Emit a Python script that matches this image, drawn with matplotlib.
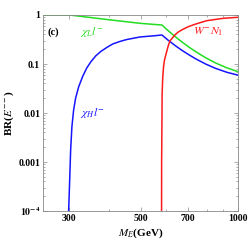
import numpy as np
import matplotlib
matplotlib.use("Agg")
import matplotlib.pyplot as plt
from matplotlib.ticker import FixedLocator, NullFormatter, LogLocator

plt.rcParams["font.family"] = "Liberation Serif"
plt.rcParams["mathtext.fontset"] = "stix"

# data (M_E in GeV, branching ratios)
m_green = [250, 302, 400, 498, 554, 582.1, 607.5, 638.5, 671.2, 705.7, 741.8, 796.4, 855.3, 925, 1000]
br_green = [1.0, 1.0, 0.80, 0.677, 0.64, 0.625, 0.484, 0.366, 0.282, 0.221, 0.177, 0.133, 0.104,
            0.0833, 0.0697]

m_blue = [299.8, 300, 302, 304.3, 307, 310.8, 315.3, 322, 331.9, 341.2, 351, 363.6, 376.9, 393.3,
          410.3, 431.5, 453.6, 498, 554, 582.1, 607.5, 638.5, 671.2, 705.7, 741.8, 796.4, 855.3,
          925, 1000]
br_blue = [5e-5, 1e-4, 3.7e-4, 1.76e-3, 5.2e-3, 0.0115, 0.0202, 0.034, 0.0569, 0.0828, 0.110, 0.146,
           0.180, 0.217, 0.256, 0.288, 0.316, 0.356, 0.378, 0.391, 0.309, 0.240, 0.190, 0.154,
           0.1265, 0.0991, 0.0808, 0.0676, 0.0593]

m_red = [580.7, 580.8, 581.1, 582.4, 583.0, 585.5, 588.9, 593.1, 601.9, 608.8, 616.2, 627.3, 638.5,
         652.3, 669.7, 701.9, 736.4, 800, 901, 1000]
br_red = [5e-5, 1e-4, 1.1e-3, 7.2e-3, 0.0233, 0.0518, 0.0868, 0.121, 0.176, 0.233, 0.295, 0.340,
          0.391, 0.444, 0.494, 0.577, 0.646, 0.765, 0.856, 0.898]

x_major = [300, 500, 700, 1000]
x_minor = [400, 600, 800, 900]
y_major = [1e-4, 1e-3, 1e-2, 1e-1, 1]
y_labels = [r"$\mathbf{10^{-4}}$", "0.001", "0.01", "0.1", "1"]

fig = plt.figure(figsize=(2.49, 2.45), dpi=100)
ax = fig.add_axes([43 / 249, 1 - 211 / 245, 195 / 249, 196 / 245])

ax.plot(m_green, br_green, color="#22dd22", lw=1.1)
ax.plot(m_blue, br_blue, color="#1515ff", lw=1.1)
ax.plot(m_red, br_red, color="#ff1a1a", lw=1.1)

ax.set_xscale("log")
ax.set_yscale("log")
ax.set_xlim(250, 1000)
ax.set_ylim(1e-4, 1)

ax.xaxis.set_major_locator(FixedLocator(x_major))
ax.xaxis.set_minor_locator(FixedLocator(x_minor))
ax.set_xticklabels([str(v) for v in x_major])
ax.xaxis.set_minor_formatter(NullFormatter())
ax.yaxis.set_major_locator(FixedLocator(y_major))
ax.yaxis.set_minor_locator(LogLocator(base=10, subs=np.arange(2, 10)))
ax.yaxis.set_minor_formatter(NullFormatter())
ax.set_yticklabels(y_labels)

for lab in ax.get_xticklabels() + ax.get_yticklabels():
    lab.set_fontweight("bold")
    lab.set_fontsize(7)

ax.tick_params(which="both", direction="in", top=True, right=True, color="#888888", width=0.5)
ax.tick_params(which="major", length=3, pad=2)
ax.tick_params(which="minor", length=1.6)
for s in ax.spines.values():
    s.set_color("#888888")
    s.set_linewidth(0.6)

ax.set_xlabel(r"$\boldsymbol{M_E}$(GeV)", fontsize=8, fontweight="bold", labelpad=3)
ax.set_ylabel(r"BR($\boldsymbol{E^{--}}$)", fontsize=8, fontweight="bold", labelpad=2)

fig.text(53 / 249, 1 - 32 / 245, "(c)", fontsize=7.5, fontweight="bold", ha="center", va="center")
ax.text(0.19, 0.915, r"$\chi_L l^{-}$", transform=ax.transAxes, color="#22dd22", fontsize=8.5,
        ha="left", va="center")
ax.text(0.19, 0.5, r"$\chi_H l^{-}$", transform=ax.transAxes, color="#1515ff", fontsize=8.5,
        ha="left", va="center")
ax.text(0.77, 0.915, r"$W^{-}N_1$", transform=ax.transAxes, color="#ff1a1a", fontsize=8.5,
        ha="left", va="center")

fig.savefig("out.png", dpi=100)
